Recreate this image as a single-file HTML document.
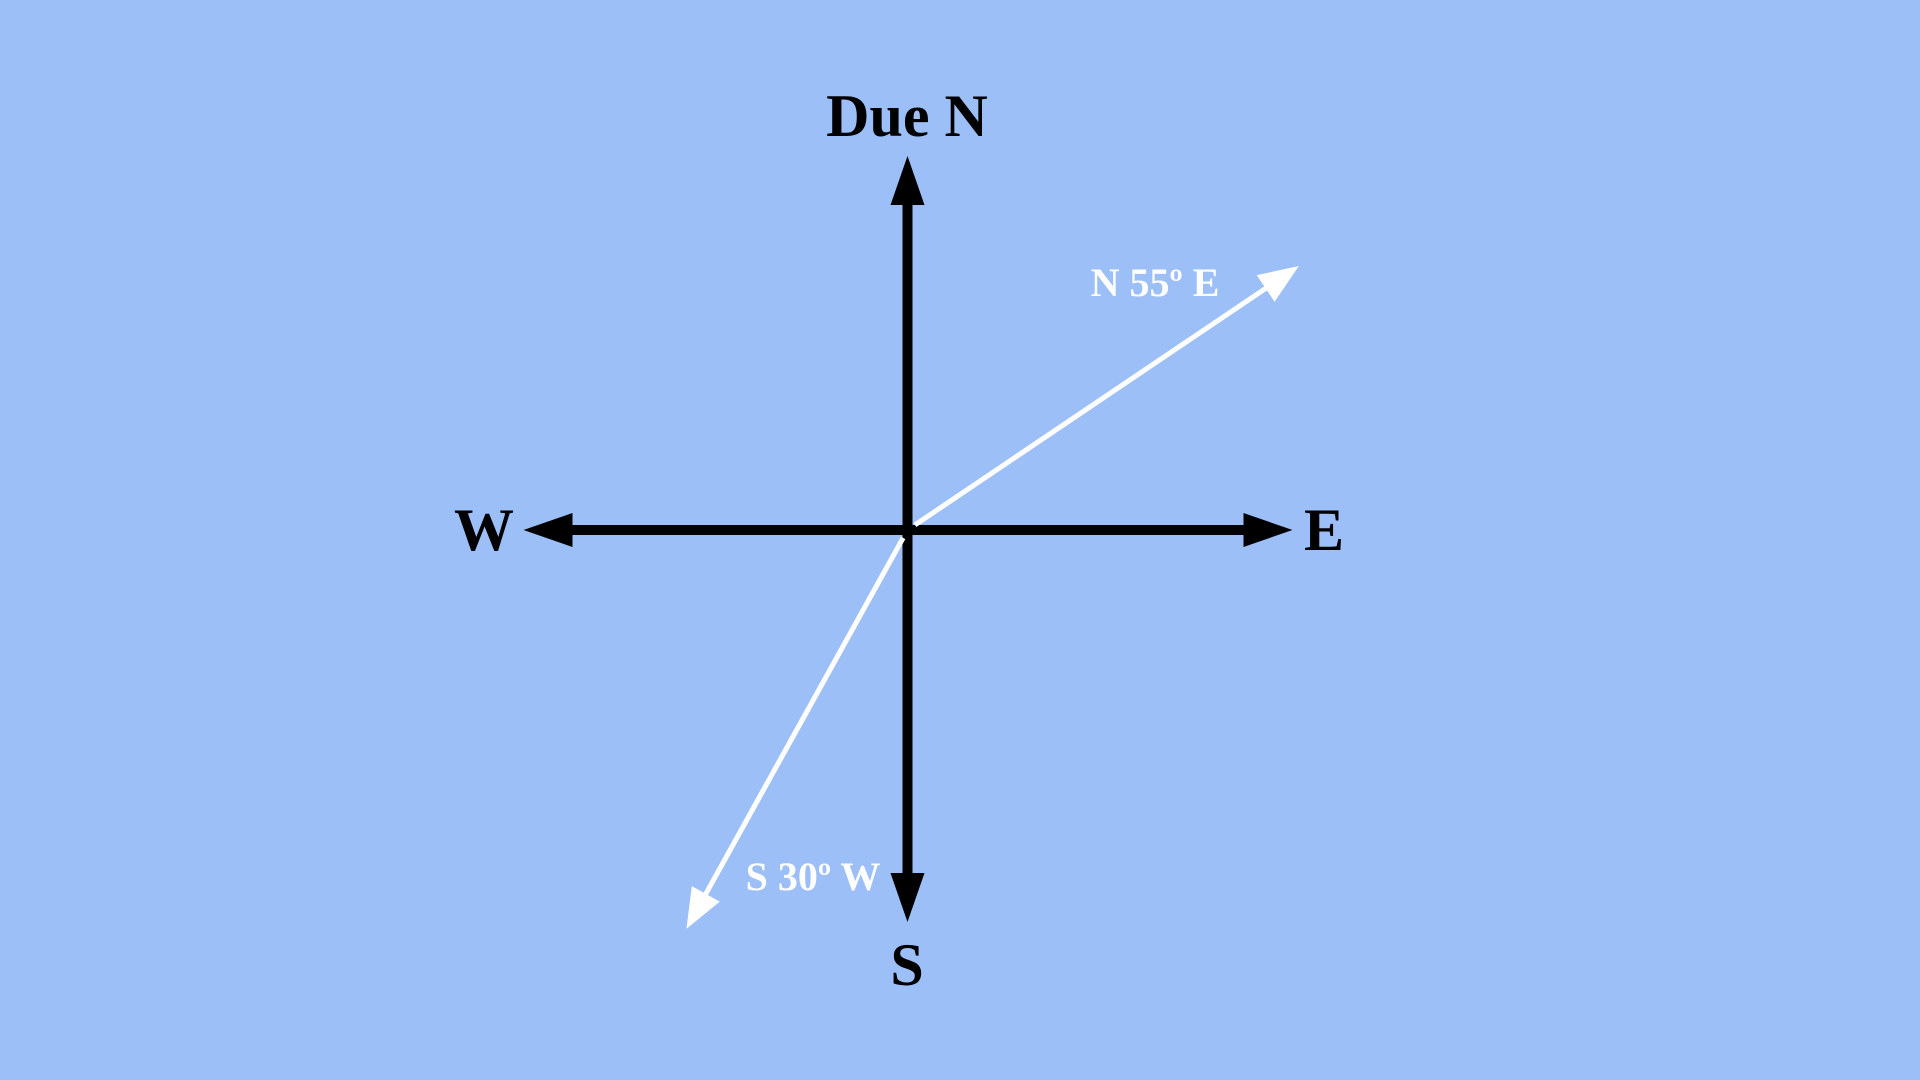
<!DOCTYPE html>
<html><head><meta charset="utf-8"><style>
html,body{margin:0;padding:0;width:1920px;height:1080px;background:#9dbff7;overflow:hidden}
svg{display:block}
text{font-family:"Liberation Serif",serif;font-weight:bold}
</style></head><body>
<svg id="chart" width="1920" height="1080" viewBox="0 0 1920 1080">
<rect width="1920" height="1080" fill="#9dbff7"/>
<g id="axes"></g>
<g id="vectors"></g>
<text x="907" y="136" font-size="60" text-anchor="middle" fill="#000">Due N</text>
<text x="484" y="550" font-size="60" text-anchor="middle" fill="#000">W</text>
<text x="1324" y="550" font-size="60" text-anchor="middle" fill="#000">E</text>
<text x="907" y="985" font-size="60" text-anchor="middle" fill="#000">S</text>
</svg>
<script>
// cardinal arms: bearing (deg from north) and length (px)
const cardinalBearings = [0, 90, 180, 270];
const cardinalLengths = [374, 385, 392, 384];
// vectors
const vectorLabels = ["N 55º E", "S 30º W"];
const bearings = [56, 209];
const lengths = [472, 456];

const cx = 907.5, cy = 530;
const NS = "http://www.w3.org/2000/svg";
function pt(b, r) { const a = b * Math.PI / 180; return [cx + r * Math.sin(a), cy - r * Math.cos(a)]; }
function mk(tag, attrs) { const e = document.createElementNS(NS, tag); for (const k in attrs) e.setAttribute(k, attrs[k]); return e; }
function arrow(g, b, r0, r1, w, hl, hw, color) {
  const a = b * Math.PI / 180, ux = Math.sin(a), uy = -Math.cos(a), px = -uy, py = ux;
  const [sx, sy] = pt(b, r0), [tx, ty] = pt(b, r1), [bx, by] = pt(b, r1 - hl);
  const line = mk("line", {x1: sx, y1: sy, x2: bx + ux * 2, y2: by + uy * 2, stroke: color, "stroke-width": w});
  const head = mk("polygon", {points: `${tx},${ty} ${bx + px * hw / 2},${by + py * hw / 2} ${bx - px * hw / 2},${by - py * hw / 2}`, fill: color});
  g.appendChild(line); g.appendChild(head);
  return [line, head];
}
const axes = document.getElementById("axes");
cardinalBearings.forEach((b, i) => {
  const [l, h] = arrow(axes, b, 0, cardinalLengths[i], 10, 49, 34, "#000");
  
  
  
  
});
const vec = document.getElementById("vectors");
bearings.forEach((b, i) => {
  const [l, h] = arrow(vec, b, 9, lengths[i], 5, 40, 32, "#fff");
  
  
  
  
});
const labelPos = [[1155, 296], [813, 890]];
vectorLabels.forEach((s, i) => {
  const t = mk("text", {x: labelPos[i][0], y: labelPos[i][1], "font-size": 40, "text-anchor": "middle", fill: "#fff"});
  t.textContent = s;
  
  
  vec.appendChild(t);
});
</script>
</body></html>
